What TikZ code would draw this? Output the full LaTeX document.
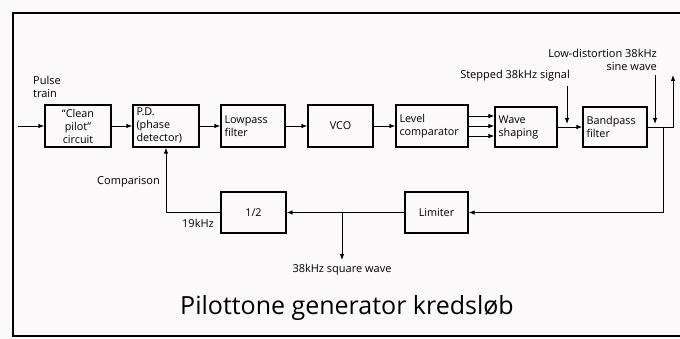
\documentclass[tikz,border=0pt]{standalone}
\usepackage{fontspec}
\setmainfont{Open Sans}
\usetikzlibrary{arrows.meta}
\definecolor{paper}{RGB}{252,249,250}
\begin{document}
\begin{tikzpicture}[x=1pt,y=-1pt,>={Latex[length=6pt,width=4.5pt]},
        blok/.style={draw, line width=1.3pt, text width=#1, inner xsep=3.5pt, inner ysep=1pt,
            minimum height=42pt, font=\fontsize{10.8}{13}\selectfont},
        lbl/.style={inner sep=0pt, font=\fontsize{11}{13.5}\selectfont},
        wire/.style={line width=0.9pt}]
    % Paper and frame
    \useasboundingbox[fill=paper] (0,0) rectangle (680,339);
    \draw[line width=2.2pt] (680,13) -- (13,13) -- (13,336) -- (680,336);

    % Upper row of blocks
    \node[blok=59pt, align=center] (clean) at (78,126) {“Clean\\pilot”\\circuit};
    \node[blok=59pt, align=left] (pd) at (166,126) {P.D.\\(phase\\detector)};
    \node[blok=57pt, align=left] (lowpass) at (253,126) {Lowpass\\filter};
    \node[blok=58pt, align=center] (vco) at (340.5,126) {VCO};
    \node[blok=65pt, align=left] (level) at (432,126) {Level\\comparator};
    \node[blok=55pt, align=left, minimum height=40pt] (wave) at (526,127) {Wave\\shaping};
    \node[blok=57pt, align=left, minimum height=40pt] (bandpass) at (615,127) {Bandpass\\filter};

    % Lower row of blocks
    \node[blok=58pt, align=center, minimum height=41pt] (half) at (253.5,212.5) {1/2};
    \node[blok=56pt, align=center, minimum height=41pt] (limiter) at (436.5,212.5) {Limiter};

    % Labels
    \node[lbl, align=left, anchor=west] (pulse) at (33,87) {Pulse\\train};
    \node[lbl, anchor=east] (stepped) at (570,76) {Stepped 38kHz signal};
    \node[lbl, align=right, anchor=south east] (sine) at (657,71) {Low-distortion 38kHz\\sine wave};
    \node[lbl, anchor=east] (cmp) at (160,182) {Comparison};
    \node[lbl] (f19) at (198,223) {19kHz};
    \node[lbl, anchor=north] (square) at (342,264) {38kHz square wave};
    \node[font=\fontsize{25}{30}\selectfont] (title) at (347,308) {Pilottone generator kredsløb};

    % Free ends
    \coordinate (in) at (18,126);
    \coordinate (out) at (673,75);
    \coordinate (tap) at (663,127);
    \coordinate (stepin) at (567,124);
    \coordinate (sinein) at (655,124);
    \coordinate (sqout) at (342,260);

    % Signal path
    \draw[wire,->] (in) -- (clean);
    \draw[wire,->] (clean) -- (pd);
    \draw[wire,->] (pd) -- (lowpass);
    \draw[wire,->] (lowpass) -- (vco);
    \draw[wire,->] (vco) -- (level);
    \foreach \dy in {-10,0,10}
        \draw[wire,->] ([yshift=\dy pt]level.east) -- ([yshift=\dy pt]level.east -| wave.west);
    \draw[wire,->] (wave) -- (bandpass);
    \draw[wire,->] (bandpass.east) -- (bandpass.east -| out) -- (out);
    \draw[wire,->] ([xshift=-3pt,yshift=-4pt]stepped.south east) -- (stepin);
    \draw[wire,->] ([xshift=-2pt,yshift=-4pt]sine.south east) -- (sinein);

    % Feedback
    \draw[wire,->] (tap) |- (limiter.east);
    \draw[wire,->] (limiter) -- (half);
    \draw[wire,->] (sqout |- half.east) -- (sqout);
    \draw[wire,->] (half.west) -| (pd.south);
\end{tikzpicture}
\end{document}
